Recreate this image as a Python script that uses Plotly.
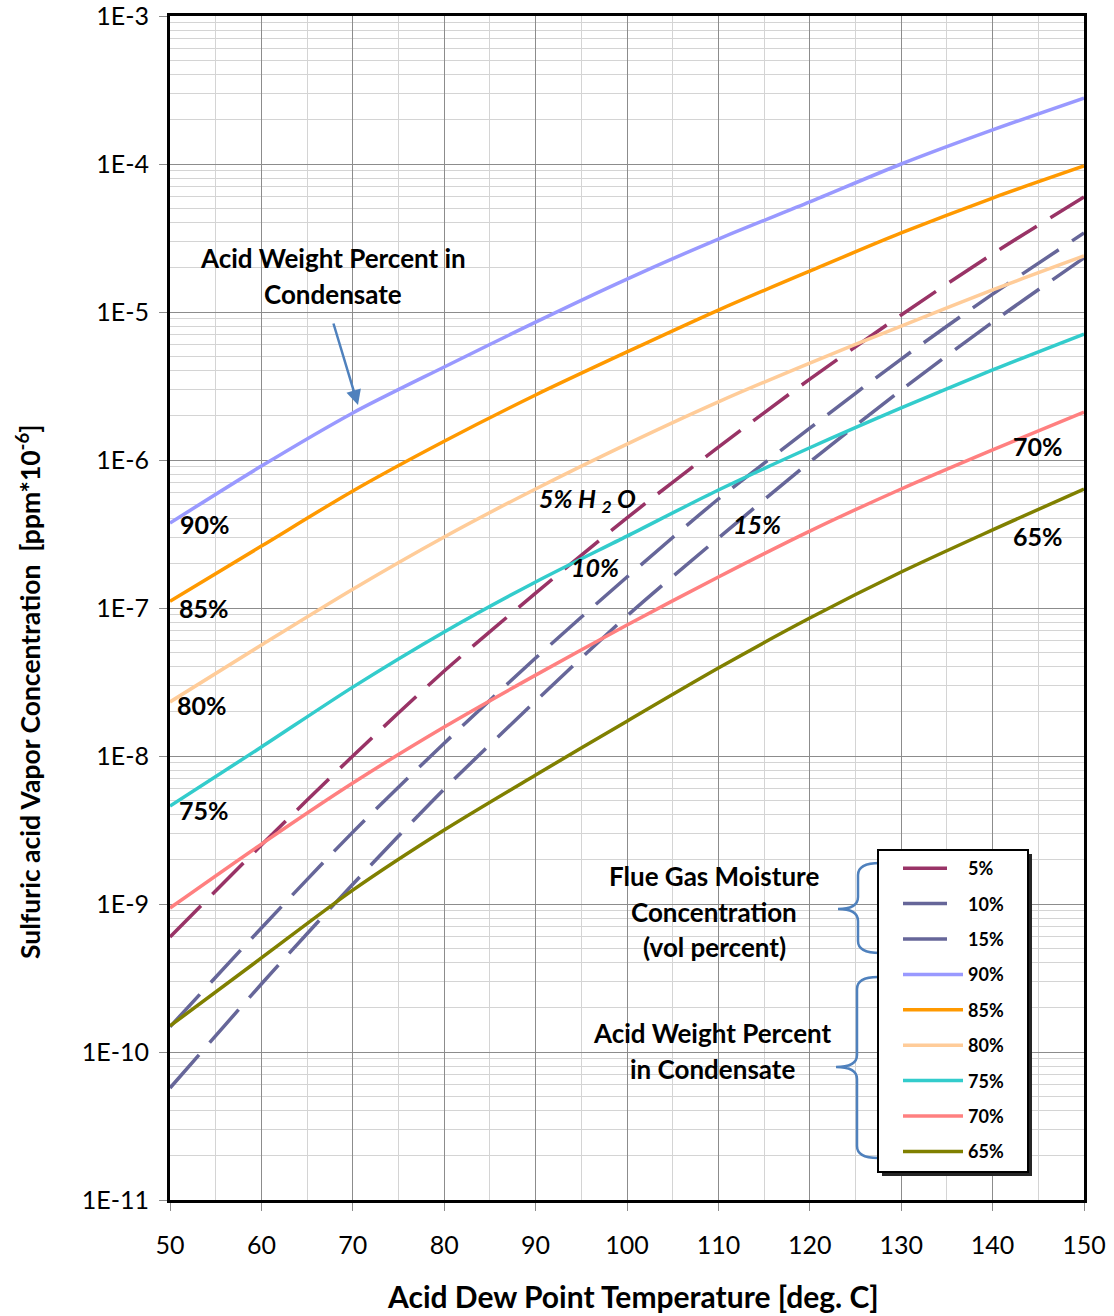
import plotly.graph_objects as go

# Acid dew point temperature (deg C)
temperature_c = [50, 60, 70, 80, 90, 100, 110, 120, 130, 140, 150]

# H2SO4 vapour concentration for a given acid weight percent in the condensate
acid_90 = [3.75e-7, 9.1e-7, 2.08e-6, 4.25e-6, 8.55e-6, 1.67e-5, 3.11e-5, 5.54e-5, 1.0e-4, 1.70e-4, 2.79e-4]
acid_85 = [1.11e-7, 2.62e-7, 6.18e-7, 1.34e-6, 2.75e-6, 5.37e-6, 1.03e-5, 1.89e-5, 3.42e-5, 5.89e-5, 9.69e-5]
acid_80 = [2.32e-8, 5.62e-8, 1.34e-7, 3.02e-7, 6.37e-7, 1.28e-6, 2.47e-6, 4.52e-6, 8.04e-6, 1.41e-5, 2.39e-5]
acid_75 = [4.59e-9, 1.15e-8, 2.92e-8, 6.89e-8, 1.50e-7, 3.06e-7, 6.27e-7, 1.21e-6, 2.25e-6, 4.06e-6, 7.10e-6]
acid_70 = [9.4e-10, 2.54e-9, 6.57e-9, 1.57e-8, 3.52e-8, 7.67e-8, 1.62e-7, 3.31e-7, 6.37e-7, 1.17e-6, 2.11e-6]
acid_65 = [1.50e-10, 4.32e-10, 1.24e-9, 3.16e-9, 7.44e-9, 1.72e-8, 3.93e-8, 8.55e-8, 1.75e-7, 3.37e-7, 6.37e-7]

# Dew point lines for a given flue gas moisture (vol %)
h2o_5 = [5.98e-10, 2.50e-9, 1.0e-8, 3.75e-8, 1.26e-7, 4.06e-7, 1.22e-6, 3.52e-6, 9.55e-6, 2.47e-5, 5.98e-5]
h2o_10 = [1.48e-10, 6.89e-10, 3.06e-9, 1.22e-8, 4.59e-8, 1.62e-7, 5.45e-7, 1.64e-6, 4.81e-6, 1.32e-5, 3.42e-5]
h2o_15 = [5.71e-11, 2.88e-10, 1.36e-9, 5.98e-9, 2.35e-8, 8.83e-8, 2.97e-7, 9.68e-7, 2.97e-6, 8.55e-6, 2.32e-5]

moisture_labels = ["5%", "10%", "15%"]
moisture_series = [h2o_5, h2o_10, h2o_15]
moisture_colors = ["#993366", "#666699", "#666699"]

acid_labels = ["90%", "85%", "80%", "75%", "70%", "65%"]
acid_series = [acid_90, acid_85, acid_80, acid_75, acid_70, acid_65]
acid_colors = ["#9999FF", "#FF9900", "#FFCC99", "#33CCCC", "#FF8080", "#808000"]

y_tick_vals = [1e-11, 1e-10, 1e-9, 1e-8, 1e-7, 1e-6, 1e-5, 1e-4, 1e-3]
y_tick_text = ["1E-11", "1E-10", "1E-9", "1E-8", "1E-7", "1E-6", "1E-5", "1E-4", "1E-3"]
x_tick_vals = [50, 60, 70, 80, 90, 100, 110, 120, 130, 140, 150]

FONT = "Lato, 'Open Sans', sans-serif"
W, H = 1114, 1316
ML, MR, MT, MB = 170, 30, 16, 116
PW, PH = W - ML - MR, H - MT - MB


def paper(px, py):
    """Page pixel -> paper coordinates."""
    return (px - ML) / PW, (H - MB - py) / PH


fig = go.Figure()

for name, ys, col in zip(moisture_labels, moisture_series, moisture_colors):
    fig.add_trace(go.Scatter(
        x=temperature_c, y=ys, mode="lines", name=f"<b>{name}</b>",
        legendgroup=name,
        line=dict(color=col, width=3.5, dash="44px,16px", shape="spline", smoothing=0.8),
    ))

for name, ys, col in zip(acid_labels, acid_series, acid_colors):
    fig.add_trace(go.Scatter(
        x=temperature_c, y=ys, mode="lines", name=f"<b>{name}</b>",
        legendgroup=name,
        line=dict(color=col, width=3.5, shape="spline", smoothing=0.8),
    ))

# minor log gridlines at 2..9 of every decade
minor_vals = [m * 10.0 ** e for e in range(-11, -3) for m in range(2, 10)]

fig.update_xaxes(
    range=[50, 150], tickmode="array", tickvals=x_tick_vals,
    showgrid=True, gridcolor="#8C8C8C", gridwidth=1,
    minor=dict(dtick=5, showgrid=True, gridcolor="#D4D4D4", gridwidth=1),
    showline=True, mirror=True, linecolor="black", linewidth=3,
    ticks="outside", ticklen=8, tickcolor="#8C8C8C", tickwidth=1,
    tickfont=dict(family=FONT, size=25, color="black"), ticklabelstandoff=13,
    ticklabeloverflow="allow", zeroline=False, automargin=False,
)
fig.update_yaxes(
    type="log", range=[-11, -3], tickmode="array",
    tickvals=y_tick_vals, ticktext=y_tick_text,
    showgrid=True, gridcolor="#8C8C8C", gridwidth=1,
    minor=dict(tickvals=minor_vals, showgrid=True, gridcolor="#D4D4D4", gridwidth=1),
    showline=True, mirror=True, linecolor="black", linewidth=3,
    ticks="outside", ticklen=8, tickcolor="#8C8C8C", tickwidth=1,
    tickfont=dict(family=FONT, size=25, color="black"), ticklabelstandoff=5,
    ticklabeloverflow="allow", zeroline=False, automargin=False,
)

annotations = []


def label(px, py, text, size=26, **kw):
    x, y = paper(px, py)
    annotations.append(dict(
        x=x, y=y, xref="paper", yref="paper", text=text, showarrow=False,
        xanchor="center", yanchor="middle",
        font=dict(family=FONT, size=size, color="black"), **kw))


# axis titles
label(633, 1296, "<b>Acid Dew Point Temperature [deg. C]</b>", size=30)
label(28, 692, "<b>Sulfuric acid Vapor Concentration  [ppm*10<sup>-6</sup>]</b>",
      size=26.5, textangle=-90)

# curve labels
label(205, 524, "<b>90%</b>", size=25)
label(204, 608, "<b>85%</b>", size=25)
label(202, 705, "<b>80%</b>", size=25)
label(204, 810, "<b>75%</b>", size=25)
label(1038, 446, "<b>70%</b>", size=25)
label(1038, 536, "<b>65%</b>", size=25)
label(587, 500, "<b><i>5% H <sub>2</sub> O</i></b>", size=25)
label(595, 567, "<b><i>10%</i></b>", size=25)
label(757, 524, "<b><i>15%</i></b>", size=25)

# callouts
label(333, 258, "<b>Acid Weight Percent in</b>")
label(333, 294, "<b>Condensate</b>")
label(714, 876, "<b>Flue Gas Moisture</b>")
label(714, 912, "<b>Concentration</b>")
label(714, 947, "<b>(vol percent)</b>")
label(712, 1033, "<b>Acid Weight Percent</b>")
label(712, 1069, "<b>in Condensate</b>")

# arrow pointing at the 90 % curve
tx, ty = paper(358, 405)
annotations.append(dict(
    x=tx, y=ty, xref="paper", yref="paper", ax=-25, ay=-83, text="",
    showarrow=True, arrowhead=2, arrowsize=1.2, arrowwidth=2.5, arrowcolor="#4F81BD",
))


def path(points):
    """Build an SVG path in paper units from (cmd, px, py, ...) tuples."""
    out = []
    for cmd, *pts in points:
        coords = []
        for i in range(0, len(pts), 2):
            x, y = paper(pts[i], pts[i + 1])
            coords.append(f"{x:.5f},{y:.5f}")
        out.append(cmd + " ".join(coords))
    return " ".join(out)


brace_upper = path([
    ("M", 880, 863), ("Q", 858, 863, 858, 875), ("L", 858, 897),
    ("Q", 858, 909, 838, 909), ("Q", 858, 909, 858, 921), ("L", 858, 941),
    ("Q", 858, 953, 880, 953),
])
brace_lower = path([
    ("M", 878, 977), ("Q", 857, 977, 857, 989), ("L", 857, 1055),
    ("Q", 857, 1067, 836, 1067), ("Q", 857, 1067, 857, 1079), ("L", 857, 1146),
    ("Q", 857, 1158, 878, 1158),
])

# legend frame with a drop shadow
shx0, shy0 = paper(882, 854)
shx1, shy1 = paper(1032, 1176)
bx0, by0 = paper(878, 850)
bx1, by1 = paper(1028, 1172)
shapes = [
    dict(type="path", path=brace_upper, xref="paper", yref="paper",
         line=dict(color="#4F81BD", width=2.5)),
    dict(type="path", path=brace_lower, xref="paper", yref="paper",
         line=dict(color="#4F81BD", width=2.5)),
    dict(type="rect", x0=shx0, y0=shy0, x1=shx1, y1=shy1, xref="paper", yref="paper",
         fillcolor="#262626", line=dict(width=0), layer="above"),
    dict(type="rect", x0=bx0, y0=by0, x1=bx1, y1=by1, xref="paper", yref="paper",
         fillcolor="white", line=dict(color="black", width=2), layer="above"),
]

lx, ly = paper(898, 850)
fig.update_layout(
    width=W, height=H,
    margin=dict(l=ML, r=MR, t=MT, b=MB),
    paper_bgcolor="white", plot_bgcolor="white",
    font=dict(family=FONT, color="black"),
    showlegend=True,
    legend=dict(
        x=lx, y=ly, xanchor="left", yanchor="top",
        bgcolor="rgba(0,0,0,0)", borderwidth=0,
        font=dict(family=FONT, size=18, color="black"),
        tracegroupgap=9, itemwidth=60, traceorder="grouped",
    ),
    annotations=annotations,
    shapes=shapes,
)

fig.write_html("out.html")
